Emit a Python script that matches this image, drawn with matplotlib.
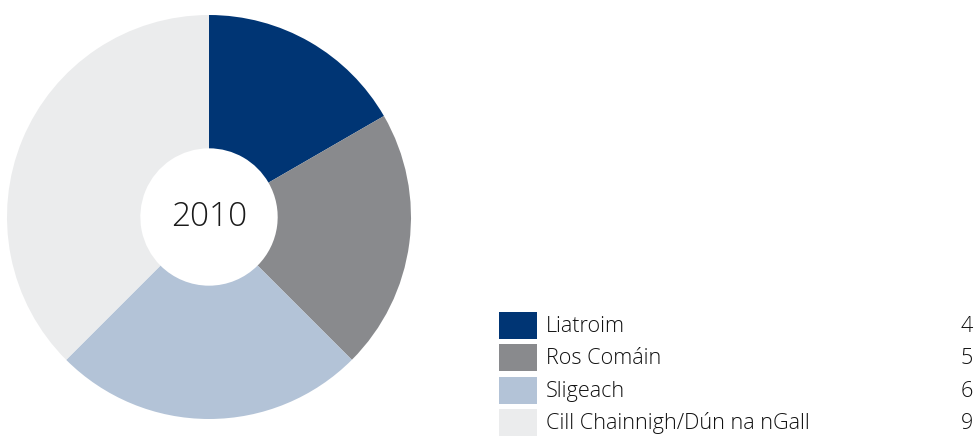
import matplotlib.pyplot as plt
from matplotlib.patches import Rectangle

plt.rcParams['font.family'] = ['Open Sans', 'DejaVu Sans']

labels = ['Liatroim', 'Ros Comáin', 'Sligeach', 'Cill Chainnigh/Dún na nGall']
values = [4, 5, 6, 9]
colors = ['#003574', '#898a8d', '#b3c3d7', '#ebeced']
year = '2010'

W, H = 979, 437
fig = plt.figure(figsize=(W / 100, H / 100), dpi=100)

# donut, placed by pixel box
ax = fig.add_axes([7 / W, 18 / H, 404 / W, 404 / H])
ax.pie(values, colors=colors, startangle=90, counterclock=False, radius=1,
       wedgeprops=dict(width=0.66, linewidth=0))
ax.set_xlim(-1, 1)
ax.set_ylim(-1, 1)
ax.set_aspect('equal')
ax.axis('off')
ax.text(0, 0, year, ha='center', va='center', fontsize=24, fontweight='light', color='#1a1a1a')

# legend drawn in pixel coordinates
lax = fig.add_axes([0, 0, 1, 1])
lax.set_xlim(0, W)
lax.set_ylim(H, 0)
lax.axis('off')
for i, (lab, val, col) in enumerate(zip(labels, values, colors)):
    top = 312 + i * 32.3
    lax.add_patch(Rectangle((499, top), 38, 27, facecolor=col, edgecolor='none'))
    lax.text(546, top + 14.5, lab, ha='left', va='center', fontsize=15.6, fontweight='light', color='#111111')
    lax.text(973, top + 14.5, str(val), ha='right', va='center', fontsize=15.6, fontweight='light', color='#111111')

fig.savefig('out.png', dpi=100)
